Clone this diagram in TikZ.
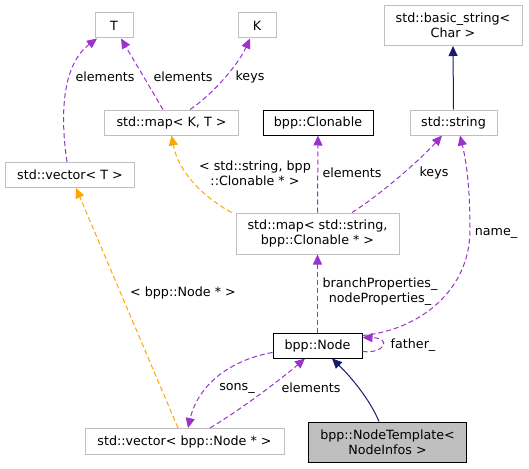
\documentclass[tikz,border=0pt]{standalone}
\usepackage{fontspec}
\setmainfont{DejaVu Sans}
\usetikzlibrary{arrows.meta}
\definecolor{purp}{HTML}{9A32CD}
\definecolor{orng}{HTML}{FFA500}
\definecolor{navy}{HTML}{191970}
\definecolor{gbord}{HTML}{BFBFBF}
\begin{document}
\begin{tikzpicture}[x=1pt,y=-1pt,
  every node/.style={font=\fontsize{12.7}{15}\selectfont},
  box/.style={draw=gbord,line width=1pt,fill=white,inner sep=0pt,align=center,minimum height=25pt},
  dbox/.style={box,draw=black},
  lbl/.style={align=center,inner sep=0pt},
  tip/.style={-{Triangle[length=10pt,width=9pt]}},
  member/.style={draw=purp,line width=1pt,dash pattern=on 5pt off 3pt,tip},
  tmpl/.style={draw=orng,line width=1pt,dash pattern=on 5pt off 3pt,tip},
  inh/.style={draw=navy,line width=1pt,tip}]
\useasboundingbox (0,0) rectangle (529,468);

% nodes
\node[box,minimum width=38pt] (T) at (114,25.5) {T};
\node[box,minimum width=38pt] (K) at (257,25.5) {K};
\node[box,minimum width=138pt,minimum height=40pt] (bstr) at (453,25.5) {std::basic\_string<\\Char >};
\node[box,minimum width=134pt] (mapKT) at (171.5,122.5) {std::map< K, T >};
\node[dbox,minimum width=110pt] (clon) at (318,122.5) {bpp::Clonable};
\node[box,minimum width=87pt] (str) at (453.5,122.5) {std::string};
\node[box,minimum width=129pt] (vecT) at (70,175) {std::vector< T >};
\node[box,minimum width=163pt,minimum height=41pt] (map2) at (317.5,233.5) {std::map< std::string,\\bpp::Clonable * >};
\node[dbox,minimum width=89pt] (bnode) at (317.5,345.5) {bpp::Node};
\node[box,minimum width=199pt,minimum height=26pt] (vecN) at (184.5,441.5) {std::vector< bpp::Node * >};
\node[box,draw=black,fill=gbord,minimum width=158pt,minimum height=40pt] (ntmp) at (387.5,442) {bpp::NodeTemplate<\\NodeInfos >};

% edges
\draw[member] ([xshift=-3pt]vecT.north) .. controls (60,115) and (62,65) .. ([xshift=-17pt]T.south);
\draw[member] ([xshift=-8.5pt]mapKT.north) -- ([xshift=7pt]T.south);
\draw[member] ([xshift=18.5pt]mapKT.north) .. controls (212,95) and (238,65) .. ([xshift=-7pt]K.south);
\draw[inh] (str.north) -- (bstr.south);
\draw[tmpl] ([xshift=-4pt]map2.north west) .. controls (200,195) and (178,170) .. (mapKT.south);
\draw[member] (map2.north) -- (clon.south);
\draw[member] ([xshift=34.5pt]map2.north) .. controls (380,195) and (420,160) .. ([xshift=-11.5pt]str.south);
\draw[member] (bnode.north) -- (map2.south);
\draw[member] ([yshift=-3pt]bnode.north east) .. controls (420,330) and (470,290) .. (470,230) .. controls (470,185) and (466,160) .. ([xshift=6.5pt]str.south);
\draw[member] ([yshift=-6pt]bnode.east) .. controls (385,354) and (392,338) .. ([yshift=8pt]bnode.east);
\draw[tmpl] ([xshift=-6.5pt]vecN.north) -- ([xshift=6pt]vecT.south);
\draw[member] ([yshift=-7pt]bnode.west) .. controls (230,360) and (198,385) .. ([xshift=3.5pt]vecN.north);
\draw[member] ([xshift=25.5pt]vecN.north) .. controls (240,410) and (280,380) .. ([xshift=-12.5pt]bnode.south);
\draw[inh] ([xshift=-8.5pt]ntmp.north) .. controls (370,400) and (352,378) .. ([xshift=14.5pt]bnode.south);

% labels
\node[lbl] (l1) at (105,77) {elements};
\node[lbl] (l2) at (183,77) {elements};
\node[lbl] (l3) at (250,77) {keys};
\node[lbl] (l4) at (255,173) {< std::string, bpp\\::Clonable * >};
\node[lbl] (l5) at (352,173) {elements};
\node[lbl] (l6) at (434,173) {keys};
\node[lbl] (l7) at (496,233) {name\_};
\node[lbl] (l8) at (380,292) {branchProperties\_\\nodeProperties\_};
\node[lbl] (l9) at (183,293) {< bpp::Node * >};
\node[lbl] (l10) at (413,345) {father\_};
\node[lbl] (l11) at (237,388) {sons\_};
\node[lbl] (l12) at (311,388) {elements};
\end{tikzpicture}
\end{document}
